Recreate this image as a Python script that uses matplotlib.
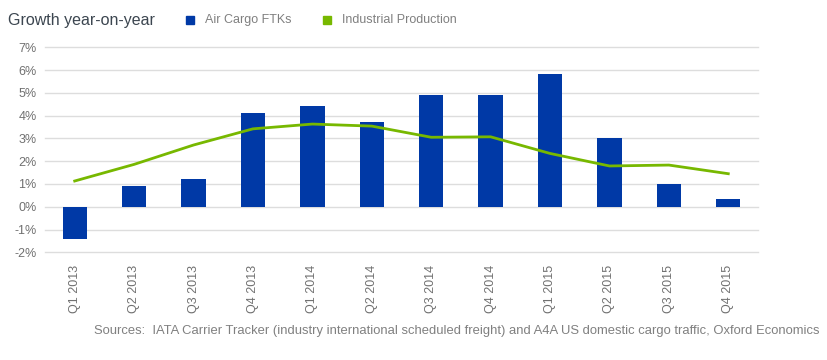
import matplotlib.pyplot as plt
from matplotlib.patches import Rectangle
import numpy as np

# quarterly labels and growth rates (%)
quarters = ['Q1 2013', 'Q2 2013', 'Q3 2013', 'Q4 2013',
            'Q1 2014', 'Q2 2014', 'Q3 2014', 'Q4 2014',
            'Q1 2015', 'Q2 2015', 'Q3 2015', 'Q4 2015']
air_cargo = [-1.4, 0.92, 1.21, 4.11, 4.41, 3.70, 4.89, 4.89, 5.83, 3.0, 1.01, 0.34]
industrial = [1.13, 1.86, 2.71, 3.42, 3.63, 3.54, 3.05, 3.07, 2.34, 1.79, 1.83, 1.45]
yticks = [-2, -1, 0, 1, 2, 3, 4, 5, 6, 7]

blue = '#0039A6'
green = '#77B800'
grey = '#808080'

plt.rcParams['font.family'] = ['Liberation Sans', 'DejaVu Sans']

fig = plt.figure(figsize=(8.28, 3.6), dpi=100)
W, H = 828, 360
ax = fig.add_axes([45 / W, 1 - 252.3 / H, (758 - 45) / W, (252.3 - 47.3) / H])

x = np.arange(len(quarters))
ax.bar(x, air_cargo, width=0.41, color=blue, zorder=2)
ax.plot(x, industrial, color=green, linewidth=2.0, zorder=3)

ax.set_xlim(-0.5, len(quarters) - 0.5)
ax.set_ylim(-2, 7)
ax.set_yticks(yticks)
ax.set_yticklabels([f'{v}%' for v in yticks])
ax.set_xticks(x)
ax.set_xticklabels(quarters, rotation=90, va='top', ha='center')
ax.grid(axis='y', color='#dddddd', linewidth=1, zorder=0)
for gl in ax.get_ygridlines():
    gl.set_clip_on(False)
ax.set_axisbelow(True)
for s in ax.spines.values():
    s.set_visible(False)
ax.tick_params(axis='both', length=0, colors='#707070', labelsize=9)
ax.tick_params(axis='x', pad=9)
ax.tick_params(axis='y', pad=6)

# header: title and legend
fig.text(8 / W, 1 - 20 / H, 'Growth year-on-year', fontsize=11.5, color='#3c4650',
         va='center', ha='left')
for px, label, col in [(186, 'Air Cargo FTKs', blue), (323, 'Industrial Production', green)]:
    fig.patches.append(Rectangle((px / W, 1 - 24 / H), 8 / W, 8 / H,
                                 transform=fig.transFigure, color=col, figure=fig))
    fig.text((px + 19) / W, 1 - 20 / H, label, fontsize=9, color=grey,
             va='center', ha='left')

fig.text(820 / W, 1 - 331 / H,
         'Sources:  IATA Carrier Tracker (industry international scheduled freight) '
         'and A4A US domestic cargo traffic, Oxford Economics',
         fontsize=9.4, color=grey, ha='right', va='center')

fig.savefig('out.png', dpi=100)
